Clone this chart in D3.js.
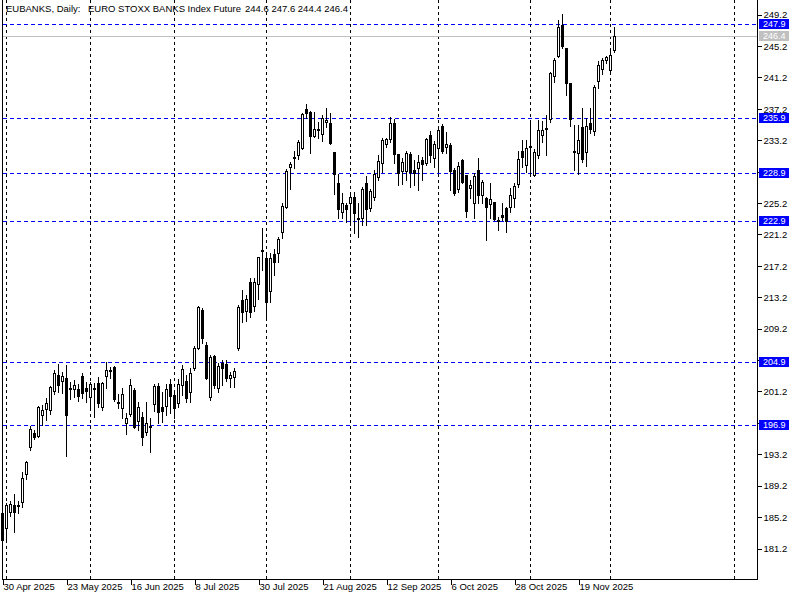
<!DOCTYPE html>
<html><head><meta charset="utf-8">
<script src="https://cdn.jsdelivr.net/npm/d3@7/dist/d3.min.js"></script>
<style>
body{margin:0;background:#fff;}
svg{display:block;font-family:"Liberation Sans",Arial,sans-serif;}
</style></head>
<body>
<script>
// ---- data ----
const openP = [185.66,183.74,185.79,186.67,186.67,187.06,190.63,194.07,195.85,195.47,
198.14,198.90,198.78,201.19,203.23,202.46,202.85,201.57,201.44,201.44,
203.10,201.57,200.43,201.44,202.21,199.16,203.10,203.87,204.25,199.80,
199.03,197.12,198.27,201.32,197.37,197.88,195.97,196.74,199.54,201.83,
199.16,199.29,202.08,200.68,199.67,201.95,202.46,201.06,204.12,206.67,
211.51,207.05,200.43,205.65,201.57,204.76,204.63,202.85,202.97,206.67,
212.78,211.38,215.08,212.02,214.82,219.15,218.13,213.93,218.64,218.77,
221.45,224.63,229.72,230.99,231.24,232.14,237.10,236.72,233.67,234.55,
233.92,235.45,235.32,231.63,227.68,224.00,224.88,225.14,225.90,223.23,
223.23,227.68,224.50,225.90,228.45,230.23,232.65,233.29,235.32,231.37,
229.21,229.21,231.37,229.34,229.59,230.61,230.23,233.79,230.86,232.14,
234.94,232.27,232.52,229.34,226.91,230.61,228.70,227.04,225.14,229.34,
226.15,225.77,225.01,225.26,222.97,223.61,224.50,224.63,225.77,227.55,
231.75,229.97,232.39,228.70,231.24,233.79,234.68,235.83,241.30,243.85,
247.80,244.87,240.41,231.75,231.50,234.81,231.63,235.32,234.30,240.67,
242.20,243.34,242.07,244.6];
const highP = [185.91,186.93,187.18,188.08,187.18,190.89,192.29,196.74,196.23,199.29,
199.41,200.30,201.83,203.87,204.63,203.61,204.50,202.34,202.59,202.08,
203.49,202.34,202.34,202.21,202.97,202.34,204.89,204.25,204.38,200.81,
201.57,198.40,202.72,201.57,199.80,198.52,199.80,197.75,202.08,202.21,
201.06,202.08,202.72,201.32,202.72,204.50,203.23,204.12,206.93,212.02,
211.76,207.43,205.77,205.77,204.76,205.14,205.14,203.61,204.12,212.14,
214.05,213.42,215.58,215.58,218.26,221.95,218.77,218.77,219.27,220.80,
225.14,229.46,230.35,231.75,233.16,236.59,237.74,236.85,236.72,235.45,
236.34,237.23,236.59,231.63,228.83,226.40,225.14,226.15,226.53,225.14,
227.16,228.57,226.91,229.34,231.24,233.41,233.41,236.09,235.83,231.37,
230.86,231.75,231.63,230.61,231.24,230.99,233.41,234.30,233.03,234.81,
235.19,234.17,232.78,229.59,230.35,230.73,228.70,228.06,228.96,230.86,
228.06,225.90,227.68,225.26,223.35,225.14,224.63,227.04,227.68,231.75,
233.16,233.16,235.45,232.01,235.70,235.57,236.34,241.81,243.60,248.43,
249.20,244.87,240.41,235.07,235.07,237.23,235.96,237.23,240.16,243.21,
243.60,243.85,244.74,247.6];
const lowP = [181.97,182.22,185.28,183.24,185.66,186.42,189.99,193.68,195.09,195.34,
196.86,197.50,198.27,200.81,201.06,200.94,192.92,200.18,200.43,199.92,
200.30,199.80,199.03,197.88,199.16,198.78,201.57,202.85,199.92,199.03,
197.75,195.72,198.01,196.48,196.23,194.32,195.59,193.42,198.65,197.12,
197.25,198.14,198.40,197.75,199.16,200.68,199.80,199.80,203.87,206.54,
207.31,202.72,200.05,201.57,201.06,201.95,202.46,201.70,201.70,206.41,
209.98,210.11,210.61,211.38,212.91,216.60,210.49,212.53,215.97,217.62,
220.67,224.50,226.91,229.59,230.73,232.01,235.96,231.50,233.54,233.41,
233.03,234.81,232.65,226.28,223.23,223.23,222.72,222.34,221.32,220.81,
222.34,222.34,224.12,225.52,228.06,229.08,232.27,232.91,230.23,227.42,
227.55,228.06,227.16,227.42,226.78,228.06,229.97,230.35,229.72,229.08,
231.50,231.50,226.78,226.15,226.53,227.68,223.35,225.77,223.23,225.14,
225.14,220.42,223.23,222.97,221.70,222.97,221.44,224.00,224.63,227.16,
229.72,229.08,228.57,228.57,230.86,232.91,231.24,235.45,240.54,243.72,
244.87,238.88,234.94,229.34,228.83,230.35,229.84,234.04,233.79,239.78,
241.56,242.96,241.56,244.4];
const closeP = [182.22,186.67,186.80,185.79,186.54,190.12,192.16,196.35,195.34,199.16,
198.78,199.67,201.70,203.49,201.95,203.10,198.14,201.44,201.95,200.56,
200.94,201.19,202.08,201.57,199.67,202.21,203.87,203.74,200.18,199.67,
200.81,197.75,201.95,196.61,199.16,195.34,197.12,196.61,201.83,198.52,
198.65,201.44,200.56,199.03,202.08,203.99,200.30,203.49,206.67,211.89,
207.94,202.85,205.52,201.95,204.38,204.12,202.85,203.23,203.74,211.89,
211.25,212.91,211.25,215.08,218.26,219.02,212.53,218.13,217.62,220.55,
224.76,229.21,230.10,230.86,232.91,236.47,236.59,233.67,234.55,234.43,
235.96,235.70,232.78,228.83,224.37,225.14,224.37,225.90,223.87,223.10,
226.91,224.37,226.66,228.83,230.48,233.16,233.29,235.32,231.37,228.96,
230.35,231.50,229.08,228.96,230.35,230.10,233.29,231.24,232.65,234.43,
231.75,232.65,229.21,226.40,229.84,227.81,224.12,227.42,228.57,226.15,
227.81,224.63,225.64,223.10,222.84,223.35,222.84,226.15,227.29,230.73,
230.99,232.14,232.27,231.63,234.43,234.43,234.55,241.69,243.34,247.54,
245.12,240.41,235.83,231.63,233.16,230.73,234.94,234.55,239.90,242.71,
243.34,243.72,243.98,246.4];

const dateLabels = ["30 Apr 2025","23 May 2025","16 Jun 2025","8 Jul 2025","30 Jul 2025",
  "21 Aug 2025","12 Sep 2025","6 Oct 2025","28 Oct 2025","19 Nov 2025"];
const dateIdx = [0,16,32,48,64,80,96,112,128,144];
const separatorIdx = [1,22,43,66,87,109,132,152,183];
const priceTicks = [249.2,245.2,241.2,237.2,233.2,229.2,225.2,221.2,217.2,213.2,
  209.2,205.2,201.2,197.2,193.2,189.2,185.2,181.2];
const levels = [247.9,235.9,228.9,222.9,204.9,196.9];
const lastPrice = 246.4;
const symbolText = "EUBANKS, Daily:";
const descText = "EURO STOXX BANKS Index Future";
const ohlcText = "244.6 247.6 244.4 246.4";

// ---- layout ----
const W = 800, H = 600;
const plotL = 2.5, plotR = 757.5, plotB = 579.5;
const x = d3.scaleLinear().domain([0, 153]).range([2.5, 614.5]);
const y = d3.scaleLinear().domain([181.2, 249.2]).range([548, 14]);
const py = v => Math.round(y(v)) + 0.5;
const allLabels = levels.map(v => ({v, c:"#0000ff"})).concat([{v:lastPrice, c:"#c0c0c0"}]);
// a tick label hidden behind a level label box is not shown (as in the reference)
const hidden = t => allLabels.some(l => Math.abs(y(l.v) - y(t)) < 8);

const svg = d3.select("body").append("svg")
  .attr("width", W).attr("height", H).attr("shape-rendering","crispEdges");

// period separators (black dashed)
svg.append("g").selectAll("line").data(separatorIdx).join("line")
  .attr("x1", d => x(d)).attr("x2", d => x(d))
  .attr("y1", 0).attr("y2", plotB)
  .attr("stroke", "#000").attr("stroke-dasharray", "3,3");

// horizontal levels (blue dashed)
svg.append("g").selectAll("line").data(levels).join("line")
  .attr("x1", plotL).attr("x2", plotR)
  .attr("y1", d => py(d)).attr("y2", d => py(d))
  .attr("stroke", "#0000ff").attr("stroke-dasharray", "4,3");

// last price line
svg.append("line").attr("x1", plotL).attr("x2", plotR)
  .attr("y1", py(lastPrice)).attr("y2", py(lastPrice)).attr("stroke", "#c0c0c0");

// candles
const idx = d3.range(openP.length);
const cg = svg.append("g");
cg.selectAll("line").data(idx).join("line")
  .attr("x1", i => x(i)).attr("x2", i => x(i))
  .attr("y1", i => Math.round(y(highP[i]))).attr("y2", i => Math.round(y(lowP[i])) + 1)
  .attr("stroke", "#000");
cg.selectAll("rect").data(idx).join("rect")
  .attr("x", i => x(i) - 1)
  .attr("width", 2)
  .attr("y", i => py(Math.max(openP[i], closeP[i])))
  .attr("height", i => Math.max(0, py(Math.min(openP[i], closeP[i])) - py(Math.max(openP[i], closeP[i]))))
  .attr("fill", i => closeP[i] >= openP[i] ? "#fff" : "#000")
  .attr("stroke", "#000");

// frame
svg.append("line").attr("x1", plotL).attr("x2", plotL).attr("y1", 0).attr("y2", plotB).attr("stroke","#000");

// right axis
const yAxis = d3.axisRight(y).tickValues(priceTicks).tickSize(4).tickSizeOuter(0)
  .tickPadding(2).tickFormat(t => hidden(t) ? "" : d3.format(".1f")(t));
const ya = svg.append("g").attr("transform", `translate(${plotR},0)`).call(yAxis);
ya.select(".domain").remove();
ya.selectAll(".tick line").attr("transform","translate(0,0.5)");
ya.selectAll("text").attr("font-size", "9.5px").attr("font-family","'Liberation Sans',Arial,sans-serif")
  .attr("fill","#000").attr("dy","0.4em");
svg.append("line").attr("x1", plotR).attr("x2", plotR).attr("y1", 0).attr("y2", plotB).attr("stroke","#000");

// bottom axis
const xAxis = d3.axisBottom(x).tickValues(dateIdx).tickSize(5).tickSizeOuter(0)
  .tickFormat((d, i) => dateLabels[i]);
const xa = svg.append("g").attr("transform", `translate(0,${plotB})`).call(xAxis);
xa.select(".domain").remove();
xa.selectAll("text").attr("text-anchor","start").attr("x", 0.5).attr("y", 4).attr("dy","0.71em")
  .attr("font-size","9.5px").attr("font-family","'Liberation Sans',Arial,sans-serif").attr("fill","#000");
svg.append("line").attr("x1", plotL).attr("x2", plotR).attr("y1", plotB).attr("y2", plotB).attr("stroke","#000");

// level labels
const lab = svg.append("g");
lab.selectAll("rect").data(allLabels).join("rect")
  .attr("x", 759).attr("width", 30)
  .attr("y", d => Math.round(y(d.v)) - 5).attr("height", 10)
  .attr("fill", d => d.c);
lab.selectAll("text").data(allLabels).join("text")
  .attr("x", 763).attr("y", d => Math.round(y(d.v))).attr("dy","0.35em")
  .attr("font-size","9px").attr("fill","#fff")
  .text(d => d.v.toFixed(1));

// header
const hd = svg.append("g").attr("font-size","9.5px").attr("fill","#000");
hd.append("text").attr("x", 6).attr("y", 12).text(symbolText);
hd.append("text").attr("x", 88).attr("y", 12).text(descText);
hd.append("text").attr("x", 245).attr("y", 12).text(ohlcText);
</script>
</body></html>
